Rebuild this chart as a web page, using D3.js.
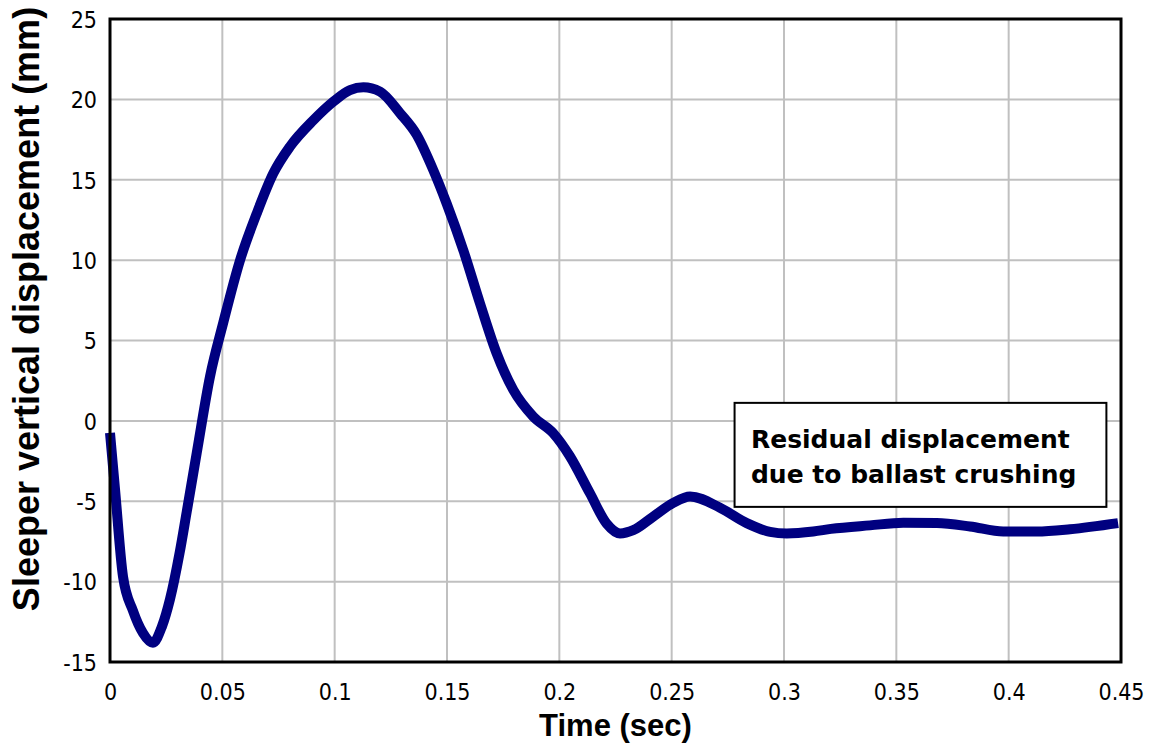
<!DOCTYPE html>
<html>
<head>
<meta charset="utf-8">
<script src="https://cdn.jsdelivr.net/npm/d3@7"></script>
<style>
  html, body { margin: 0; padding: 0; background: #fff; }
  svg { display: block; }
  .tick text { font-family: "DejaVu Sans Condensed", "DejaVu Sans", sans-serif; font-stretch: condensed; font-size: 23px; fill: #000; }
</style>
</head>
<body>
<svg id="chart" width="1157" height="749"></svg>
<script>
// ---- data ----
const timeSec = [0, 0.0022, 0.0058, 0.0102, 0.0147, 0.0191, 0.0231, 0.0267, 0.031, 0.0341, 0.0386, 0.0445, 0.0504, 0.0579, 0.0653, 0.0727, 0.0801, 0.0905, 0.0994, 0.1068, 0.1128, 0.1202, 0.1291, 0.1365, 0.1439, 0.1499, 0.1573, 0.1647, 0.1721, 0.1795, 0.1884, 0.1973, 0.2047, 0.2136, 0.2211, 0.227, 0.2329, 0.2418, 0.2507, 0.2582, 0.2715, 0.2834, 0.2938, 0.3012, 0.313, 0.3209, 0.3383, 0.3531, 0.368, 0.3828, 0.3976, 0.4125, 0.4273, 0.4487];
const displacementMm = [-0.75, -4.2, -9.7, -11.8, -13.2, -13.8, -12.8, -11.1, -8.2, -5.7, -2.0, 2.75, 6.1, 10.0, 12.9, 15.4, 17.06, 18.7, 19.86, 20.58, 20.75, 20.48, 19.14, 17.8, 15.6, 13.5, 10.6, 7.3, 4.2, 1.93, 0.27, -0.77, -2.2, -4.5, -6.4, -7.0, -6.8, -5.95, -5.1, -4.7, -5.4, -6.36, -6.9, -7.0, -6.88, -6.72, -6.5, -6.34, -6.36, -6.57, -6.88, -6.88, -6.74, -6.36];
const xTicks = [0, 0.05, 0.1, 0.15, 0.2, 0.25, 0.3, 0.35, 0.4, 0.45];
const yTicks = [-15, -10, -5, 0, 5, 10, 15, 20, 25];
const xTitle = "Time (sec)";
const yTitle = "Sleeper vertical displacement (mm)";
const noteLines = ["Residual displacement", "due to ballast crushing"];

// ---- layout ----
const plot = { left: 110, right: 1121, top: 19, bottom: 662 };
const svg = d3.select("#chart");

const x = d3.scaleLinear().domain([0, 0.45]).range([plot.left, plot.right]);
const y = d3.scaleLinear().domain([-15, 25]).range([plot.bottom, plot.top]);

// gridlines
const grid = svg.append("g");
grid.selectAll("line.v").data(xTicks).enter().append("line")
  .attr("x1", d => x(d)).attr("x2", d => x(d))
  .attr("y1", plot.top).attr("y2", plot.bottom)
  .attr("stroke", "#c0c0c0").attr("stroke-width", 2);
grid.selectAll("line.h").data(yTicks).enter().append("line")
  .attr("y1", d => y(d)).attr("y2", d => y(d))
  .attr("x1", plot.left).attr("x2", plot.right)
  .attr("stroke", "#c0c0c0").attr("stroke-width", 2);

// axes (labels only)
const fmtX = d => d === 0 ? "0" : String(+d.toFixed(2));
const xAxis = d3.axisBottom(x).tickValues(xTicks).tickFormat(fmtX).tickSize(0).tickPadding(22);
const yAxis = d3.axisLeft(y).tickValues(yTicks).tickFormat(d => String(d)).tickSize(0).tickPadding(13);
const gx = svg.append("g").attr("transform", `translate(0,${plot.bottom})`).call(xAxis);
const gy = svg.append("g").attr("transform", `translate(${plot.left},0)`).call(yAxis);
gx.select(".domain").remove();
gy.select(".domain").remove();
gy.selectAll(".tick text").attr("dy", "0.36em");

// series line
const pts = timeSec.map((t, i) => [t, displacementMm[i]]);
const line = d3.line().x(d => x(d[0])).y(d => y(d[1])).curve(d3.curveMonotoneX);
svg.append("path").datum(pts)
  .attr("d", line)
  .attr("fill", "none")
  .attr("stroke", "#000080")
  .attr("stroke-width", 10)
  .attr("stroke-linejoin", "round")
  .attr("stroke-linecap", "butt");

// plot frame
svg.append("rect")
  .attr("x", plot.left).attr("y", plot.top)
  .attr("width", plot.right - plot.left).attr("height", plot.bottom - plot.top)
  .attr("fill", "none").attr("stroke", "#000").attr("stroke-width", 3);

// annotation box
const note = svg.append("g");
note.append("rect")
  .attr("x", x(0.278)).attr("y", y(1.12))
  .attr("width", x(0.4435) - x(0.278)).attr("height", y(-5.35) - y(1.12))
  .attr("fill", "#fff").attr("stroke", "#000").attr("stroke-width", 2);
note.selectAll("text").data(noteLines).enter().append("text")
  .attr("x", x(0.2853))
  .attr("y", (d, i) => y(-1.68) + i * 35)
  .attr("font-family", "'DejaVu Sans', sans-serif")
  .attr("font-weight", "bold")
  .attr("font-size", 25)
  .attr("fill", "#000")
  .text(d => d);

// axis titles
svg.append("text")
  .attr("x", (plot.left + plot.right) / 2).attr("y", 736)
  .attr("text-anchor", "middle")
  .attr("font-family", "'Liberation Sans', Arial, sans-serif")
  .attr("font-weight", "bold").attr("font-size", 31)
  .text(xTitle);
svg.append("text")
  .attr("transform", "translate(39,309) rotate(-90)")
  .attr("text-anchor", "middle")
  .attr("font-family", "'Liberation Sans', Arial, sans-serif")
  .attr("font-weight", "bold").attr("font-size", 36)
  .text(yTitle);
</script>
</body>
</html>
